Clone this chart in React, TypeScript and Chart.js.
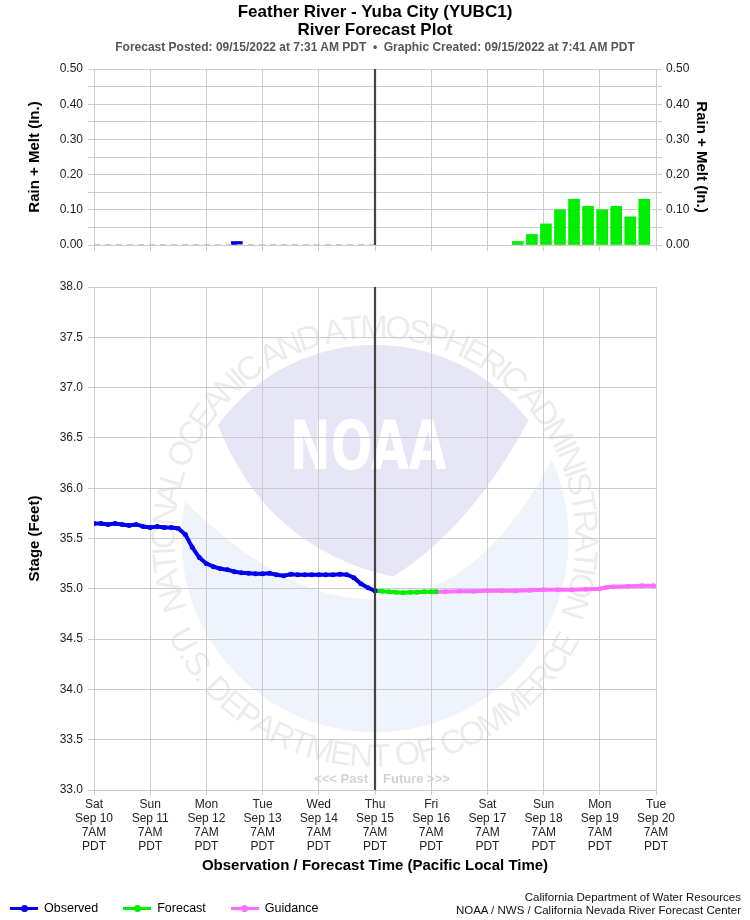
import React, { useEffect, useRef } from 'react';
import { Chart, registerables } from 'chart.js';
Chart.register(...registerables);

const FONT = "'Liberation Sans', Arial, Helvetica, sans-serif";

const TITLE = 'Feather River - Yuba City (YUBC1)';
const SUBTITLE = 'River Forecast Plot';
const INFO = 'Forecast Posted: 09/15/2022 at 7:31 AM PDT  \u2022  Graphic Created: 09/15/2022 at 7:41 AM PDT';
const TOP_Y_TITLE = 'Rain + Melt (In.)';
const BOT_Y_TITLE = 'Stage (Feet)';
const X_TITLE = 'Observation / Forecast Time (Pacific Local Time)';
const PAST_TEXT = '<<< Past';
const FUTURE_TEXT = 'Future >>>';
const FOOTER_LINES = ['California Department of Water Resources', 'NOAA / NWS / California Nevada River Forecast Center'];
const SEAL_TOP = 'NATIONAL OCEANIC AND ATMOSPHERIC ADMINISTRATION';
const SEAL_BOTTOM = 'U.S. DEPARTMENT OF COMMERCE';
const SEAL_CENTER = 'NOAA';

// x axis: hours since Sat Sep 10 7AM PDT
const X_MIN_HOUR = 0;
const X_MAX_HOUR = 240;
const X_STEP_HOURS = 24;
const NOW_HOUR = 120;
const X_TICK_LABELS = [
  ['Sat', 'Sep 10', '7AM', 'PDT'],
  ['Sun', 'Sep 11', '7AM', 'PDT'],
  ['Mon', 'Sep 12', '7AM', 'PDT'],
  ['Tue', 'Sep 13', '7AM', 'PDT'],
  ['Wed', 'Sep 14', '7AM', 'PDT'],
  ['Thu', 'Sep 15', '7AM', 'PDT'],
  ['Fri', 'Sep 16', '7AM', 'PDT'],
  ['Sat', 'Sep 17', '7AM', 'PDT'],
  ['Sun', 'Sep 18', '7AM', 'PDT'],
  ['Mon', 'Sep 19', '7AM', 'PDT'],
  ['Tue', 'Sep 20', '7AM', 'PDT'],
];

// precipitation (top panel)
const PRECIP_MIN = 0;
const PRECIP_MAX = 0.5;
const PRECIP_STEP = 0.05;
const PRECIP_ZERO_HOURS = [0, 120];
const PRECIP_ZERO_VALUES = [0, 0];
const PRECIP_OBS_HOURS = [61];
const PRECIP_OBS_VALUES = [0.01];
const PRECIP_FCST_HOURS = [181, 187, 193, 199, 205, 211, 217, 223, 229, 235];
const PRECIP_FCST_VALUES = [0.01, 0.03, 0.06, 0.10, 0.13, 0.11, 0.10, 0.11, 0.08, 0.13];

// stage (bottom panel)
const STAGE_MIN = 33;
const STAGE_MAX = 38;
const STAGE_STEP = 0.5;
const OBS_HOURS = [0, 3, 6, 9, 12, 15, 18, 21, 24, 27, 30, 33, 36, 39, 42, 45, 48, 51, 54, 57, 60, 63, 66, 69, 72, 75, 78, 81, 84, 87, 90, 93, 96, 99, 102, 105, 108, 111, 114, 117, 120];
const OBS_STAGE = [35.65, 35.65, 35.64, 35.65, 35.64, 35.63, 35.64, 35.62, 35.61, 35.62, 35.61, 35.61, 35.60, 35.54, 35.41, 35.31, 35.25, 35.22, 35.20, 35.19, 35.17, 35.16, 35.155, 35.15, 35.15, 35.155, 35.14, 35.13, 35.145, 35.14, 35.14, 35.14, 35.14, 35.14, 35.14, 35.145, 35.14, 35.11, 35.05, 35.01, 34.98];
const FCST_HOURS = [120, 123, 126, 129, 132, 135, 138, 141, 144, 146];
const FCST_STAGE = [34.98, 34.975, 34.97, 34.965, 34.96, 34.965, 34.965, 34.97, 34.97, 34.97];
const GUIDE_HOURS = [146, 150, 156, 162, 168, 174, 180, 186, 192, 198, 204, 210, 216, 219, 222, 228, 234, 239];
const GUIDE_STAGE = [34.97, 34.97, 34.975, 34.975, 34.98, 34.98, 34.98, 34.985, 34.99, 34.99, 34.99, 34.995, 35.0, 35.015, 35.02, 35.025, 35.03, 35.03];

const SERIES = [
  { label: 'Observed', color: '#0000ee' },
  { label: 'Forecast', color: '#00ee00' },
  { label: 'Guidance', color: '#ff6cff' },
];

const GRID = '#cccccc';
const TICK_COLOR = '#222';

const pts = (xs: number[], ys: number[]) => xs.map((x, i) => ({ x, y: ys[i] }));

function arcText(ctx: CanvasRenderingContext2D, text: string, cx: number, cy: number, r: number, a0: number, a1: number, upper: boolean) {
  const chars = Array.from(text);
  const widths = chars.map((c) => ctx.measureText(c).width);
  const n = chars.length;
  const total = widths.reduce((s, w) => s + w, 0);
  const span = Math.abs(a1 - a0) * r;
  const gap = (span - total + (widths[0] + widths[n - 1]) / 2) / (n - 1);
  const dir = upper ? 1 : -1;
  let s = 0;
  for (let i = 0; i < n; i++) {
    if (i > 0) s += (widths[i - 1] + widths[i]) / 2 + gap;
    const a = a0 + (dir * s) / r;
    ctx.save();
    ctx.translate(cx + r * Math.cos(a), cy + r * Math.sin(a));
    ctx.rotate(upper ? a + Math.PI / 2 : a - Math.PI / 2);
    ctx.fillText(chars[i], 0, 0);
    ctx.restore();
  }
}

function drawSeal(ctx: CanvasRenderingContext2D, cx: number, cy: number, R: number) {
  const P = (u: number, v: number): [number, number] => [cx + u * R, cy + v * R];
  ctx.save();
  ctx.beginPath();
  ctx.arc(cx, cy, R, 0, Math.PI * 2);
  ctx.closePath();
  ctx.save();
  ctx.clip();
  ctx.fillStyle = 'rgb(239,244,252)';
  ctx.fillRect(cx - R, cy - R, 2 * R, 2 * R);
  // white wings
  ctx.beginPath();
  ctx.moveTo(...P(-1.05, -0.26));
  ctx.quadraticCurveTo(...P(-0.45, 0.36), ...P(0.05, 0.31));
  ctx.quadraticCurveTo(...P(0.55, 0.28), ...P(0.92, -0.42));
  ctx.lineTo(...P(0.92, -1.1));
  ctx.lineTo(...P(-1.05, -1.1));
  ctx.closePath();
  ctx.fillStyle = '#ffffff';
  ctx.fill();
  // lavender shield
  const aL = Math.atan2(-0.606, -0.819);
  const aR = Math.atan2(-0.606, 0.788);
  ctx.beginPath();
  ctx.arc(cx, cy, R, aL, aR, false);
  ctx.quadraticCurveTo(...P(0.49, -0.05), ...P(0.093, 0.197));
  ctx.quadraticCurveTo(...P(-0.57, 0.05), ...P(-0.819, -0.606));
  ctx.closePath();
  ctx.fillStyle = 'rgb(230,230,247)';
  ctx.fill();
  ctx.restore();
  // NOAA letters
  ctx.save();
  ctx.fillStyle = '#ffffff';
  ctx.font = "bold 68px 'DejaVu Sans'";
  ctx.textAlign = 'center';
  ctx.textBaseline = 'alphabetic';
  const w = ctx.measureText(SEAL_CENTER).width;
  const [tx, ty] = P(-0.035, -0.36);
  ctx.translate(tx, ty);
  ctx.scale((0.81 * R) / w, 1);
  ctx.fillText(SEAL_CENTER, 0, 0);
  ctx.restore();
  // circular text
  ctx.fillStyle = 'rgba(0,0,0,0.075)';
  ctx.font = `${Math.round(0.172 * R)}px ${FONT}`;
  ctx.textAlign = 'center';
  ctx.textBaseline = 'alphabetic';
  const deg = Math.PI / 180;
  arcText(ctx, SEAL_TOP, cx, cy, 1.035 * R, 163 * deg, 379 * deg, true);
  arcText(ctx, SEAL_BOTTOM, cx, cy, 1.18 * R, 152 * deg, 29 * deg, false);
  ctx.restore();
}

const nowLinePlugin = {
  id: 'nowLine',
  afterDatasetsDraw(chart: any, _args: any, opts: any) {
    const { ctx, chartArea, scales } = chart;
    const x = scales.x.getPixelForValue(NOW_HOUR);
    ctx.save();
    ctx.strokeStyle = '#444';
    ctx.lineWidth = 2.2;
    ctx.beginPath();
    ctx.moveTo(x, chartArea.top);
    ctx.lineTo(x, chartArea.bottom);
    ctx.stroke();
    if (opts && opts.pastFuture) {
      ctx.fillStyle = '#d2d2d2';
      ctx.font = `bold 13px ${FONT}`;
      ctx.textBaseline = 'middle';
      ctx.textAlign = 'right';
      ctx.fillText(PAST_TEXT, x - 7, chartArea.bottom - 11);
      ctx.textAlign = 'left';
      ctx.fillText(FUTURE_TEXT, x + 8, chartArea.bottom - 11);
    }
    ctx.restore();
  },
};

const sealPlugin = {
  id: 'seal',
  beforeDraw(chart: any) {
    const { ctx, chartArea, scales } = chart;
    const cx = scales.x.getPixelForValue(NOW_HOUR);
    const cy = scales.y.getPixelForValue(35.5);
    const R = 0.385 * (chartArea.bottom - chartArea.top);
    ctx.save();
    ctx.beginPath();
    ctx.rect(chartArea.left, chartArea.top, chartArea.right - chartArea.left, chartArea.bottom - chartArea.top);
    ctx.clip();
    drawSeal(ctx, cx, cy, R);
    ctx.restore();
  },
};

const precipTick = (v: any) => {
  const n = Math.round(Number(v) * 100);
  return n % 10 === 0 ? (n / 100).toFixed(2) : '';
};

export default function App() {
  const topRef = useRef<HTMLCanvasElement>(null);
  const botRef = useRef<HTMLCanvasElement>(null);

  useEffect(() => {
    const tickFont = { family: FONT, size: 12 };
    const titleFont = { family: FONT, size: 15, weight: 'bold' as const };

    const top = new Chart(topRef.current as HTMLCanvasElement, {
      type: 'bar',
      data: {
        datasets: [
          {
            type: 'line',
            data: pts(PRECIP_ZERO_HOURS, PRECIP_ZERO_VALUES),
            borderColor: '#b4b8d4',
            borderWidth: 1.5,
            borderDash: [6, 5],
            pointRadius: 0,
          } as any,
          {
            type: 'bar',
            data: pts(PRECIP_OBS_HOURS, PRECIP_OBS_VALUES),
            backgroundColor: SERIES[0].color,
            barThickness: 11,
            grouped: false,
          } as any,
          {
            type: 'bar',
            data: pts(PRECIP_FCST_HOURS, PRECIP_FCST_VALUES),
            backgroundColor: SERIES[1].color,
            barThickness: 11,
            grouped: false,
          } as any,
        ],
      },
      options: {
        animation: false,
        responsive: false,
        maintainAspectRatio: false,
        layout: { padding: { top: 69, left: 22, right: 36, bottom: 0 } },
        plugins: { legend: { display: false }, tooltip: { enabled: false }, nowLine: {} } as any,
        scales: {
          x: {
            type: 'linear',
            min: X_MIN_HOUR,
            max: X_MAX_HOUR,
            offset: false,
            ticks: { stepSize: X_STEP_HOURS, display: false },
            grid: { color: GRID, tickLength: 6, offset: false },
            border: { color: GRID },
            afterFit: (s: any) => { s.height = 15; },
          },
          y: {
            position: 'left',
            min: PRECIP_MIN,
            max: PRECIP_MAX,
            ticks: { stepSize: PRECIP_STEP, callback: precipTick, font: tickFont, color: TICK_COLOR, padding: 5, autoSkip: false },
            grid: { color: GRID, tickLength: 6 },
            border: { color: GRID },
            title: { display: true, text: TOP_Y_TITLE, font: titleFont, color: '#000' },
            afterFit: (s: any) => { s.width = 72; },
          },
          y2: {
            position: 'right',
            min: PRECIP_MIN,
            max: PRECIP_MAX,
            ticks: { stepSize: PRECIP_STEP, callback: precipTick, font: tickFont, color: TICK_COLOR, padding: 4, autoSkip: false },
            grid: { color: GRID, tickLength: 6, drawOnChartArea: false },
            border: { color: GRID },
            title: { display: true, text: TOP_Y_TITLE, font: titleFont, color: '#000' },
            afterFit: (s: any) => { s.width = 58; },
          },
        },
      } as any,
      plugins: [nowLinePlugin],
    });

    const lineDs = (hours: number[], vals: number[], color: string) => ({
      data: pts(hours, vals),
      borderColor: color,
      backgroundColor: color,
      borderWidth: 4,
      pointRadius: 2.5,
      pointBorderWidth: 0,
      pointBackgroundColor: color,
      tension: 0,
      fill: false,
    });

    const bot = new Chart(botRef.current as HTMLCanvasElement, {
      type: 'line',
      data: {
        datasets: [
          lineDs(OBS_HOURS, OBS_STAGE, SERIES[0].color),
          lineDs(FCST_HOURS, FCST_STAGE, SERIES[1].color),
          lineDs(GUIDE_HOURS, GUIDE_STAGE, SERIES[2].color),
        ],
      },
      options: {
        animation: false,
        responsive: false,
        maintainAspectRatio: false,
        layout: { padding: { top: 27, left: 22, right: 94, bottom: 41 } },
        plugins: { legend: { display: false }, tooltip: { enabled: false }, nowLine: { pastFuture: true } } as any,
        scales: {
          x: {
            type: 'linear',
            min: X_MIN_HOUR,
            max: X_MAX_HOUR,
            ticks: {
              stepSize: X_STEP_HOURS,
              autoSkip: false,
              maxRotation: 0,
              font: { family: FONT, size: 12, lineHeight: 1.16 },
              color: TICK_COLOR,
              padding: 3,
              callback: (_v: any, i: number) => X_TICK_LABELS[i],
            },
            grid: { color: GRID, tickLength: 5 },
            border: { color: GRID },
            title: { display: true, text: X_TITLE, font: titleFont, color: '#000', padding: { top: 4, bottom: 4 } },
            afterFit: (s: any) => { s.height = 89; },
          },
          y: {
            position: 'left',
            min: STAGE_MIN,
            max: STAGE_MAX,
            ticks: { stepSize: STAGE_STEP, callback: (v: any) => Number(v).toFixed(1), font: tickFont, color: TICK_COLOR, padding: 5 },
            grid: { color: GRID, tickLength: 6 },
            border: { color: GRID },
            title: { display: true, text: BOT_Y_TITLE, font: titleFont, color: '#000' },
            afterFit: (s: any) => { s.width = 72; },
          },
        },
      } as any,
      plugins: [sealPlugin, nowLinePlugin],
    });

    return () => {
      top.destroy();
      bot.destroy();
    };
  }, []);

  return (
    <div style={{ position: 'absolute', left: 0, top: 0, width: 750, height: 920, background: '#fff', fontFamily: FONT, color: '#000', overflow: 'hidden' }}>
      <canvas ref={topRef} width={750} height={260} style={{ position: 'absolute', left: 0, top: 0, width: 750, height: 260 }} />
      <canvas ref={botRef} width={750} height={660} style={{ position: 'absolute', left: 0, top: 260, width: 750, height: 660 }} />
      <div style={{ position: 'absolute', left: 0, top: 3, width: 750, textAlign: 'center', fontWeight: 'bold', fontSize: 17, lineHeight: '18px' }}>
        <div>{TITLE}</div>
        <div>{SUBTITLE}</div>
      </div>
      <div style={{ position: 'absolute', left: 0, top: 40, width: 750, textAlign: 'center', fontWeight: 'bold', fontSize: 12, lineHeight: '14px', color: '#555', whiteSpace: 'pre' }}>
        {INFO}
      </div>
      <div style={{ position: 'absolute', left: 10, top: 900, display: 'flex', alignItems: 'center', fontSize: 12.5, lineHeight: '16px' }}>
        {SERIES.map((s) => (
          <div key={s.label} style={{ display: 'flex', alignItems: 'center', marginRight: 25 }}>
            <div style={{ position: 'relative', width: 28, height: 8, marginRight: 6 }}>
              <div style={{ position: 'absolute', left: 0, top: 3, width: 28, height: 2.5, background: s.color }} />
              <div style={{ position: 'absolute', left: 10.5, top: 0.5, width: 7, height: 7, borderRadius: '50%', background: s.color }} />
            </div>
            <span>{s.label}</span>
          </div>
        ))}
      </div>
      <div style={{ position: 'absolute', right: 9, top: 891, textAlign: 'right', fontSize: 11.5, lineHeight: '13px', color: '#111' }}>
        {FOOTER_LINES.map((l) => (
          <div key={l}>{l}</div>
        ))}
      </div>
    </div>
  );
}
